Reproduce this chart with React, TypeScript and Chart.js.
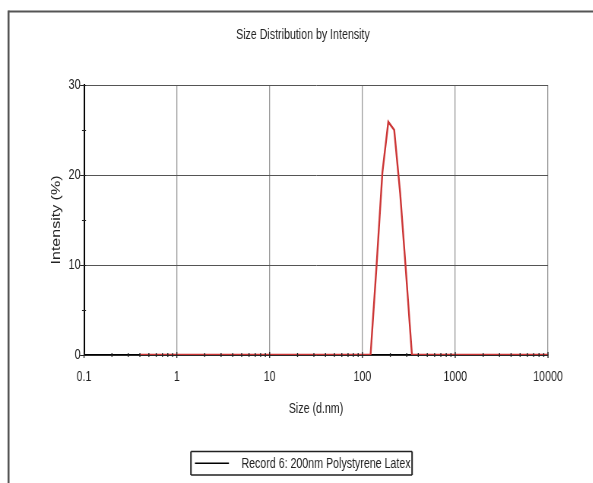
import { useEffect, useRef } from 'react';
import { Chart, registerables } from 'chart.js';

Chart.register(...registerables);

// ---- data ----
const sizes = [
  0.4, 0.4632, 0.5365, 0.6213, 0.7195, 0.8332, 0.9649, 1.117, 1.294, 1.499,
  1.736, 2.01, 2.328, 2.696, 3.122, 3.615, 4.187, 4.849, 5.615, 6.503,
  7.531, 8.721, 10.1, 11.7, 13.54, 15.69, 18.17, 21.04, 24.36, 28.21,
  32.67, 37.84, 43.82, 50.75, 58.77, 68.06, 78.82, 91.28, 105.7, 122.4,
  141.8, 164.2, 190.1, 220.2, 255.0, 295.3, 342.0, 396.1, 458.7, 531.2,
  615.1, 712.4, 825.0, 955.4, 1106, 1281, 1484, 1718, 1990, 2305,
  2669, 3091, 3580, 4145, 4801, 5560, 6439, 7456, 8635, 10000,
];
const intensity = [
  0, 0, 0, 0, 0, 0, 0, 0, 0, 0,
  0, 0, 0, 0, 0, 0, 0, 0, 0, 0,
  0, 0, 0, 0, 0, 0, 0, 0, 0, 0,
  0, 0, 0, 0, 0, 0, 0, 0, 0, 0,
  9.8, 20.3, 25.9, 25.0, 18.0, 9.1, 0, 0, 0, 0,
  0, 0, 0, 0, 0, 0, 0, 0, 0, 0,
  0, 0, 0, 0, 0, 0, 0, 0, 0, 0,
];
const xTickValues = [0.1, 1, 10, 100, 1000, 10000];
const xTickLabels = ['0.1', '1', '10', '100', '1000', '10000'];
const xMinorMultipliers = [2, 3, 4, 5, 6, 7, 8, 9];
const yTickValues = [0, 10, 20, 30];
const yMinorValues = [5, 15, 25];
const titleText = 'Size Distribution by Intensity';
const xTitleText = 'Size (d.nm)';
const yTitleText = 'Intensity (%)';
const legendText = 'Record 6: 200nm Polystyrene Latex';

// The reference is horizontally condensed; render wider and squeeze with CSS.
const SX = 0.76;
const VIEW_W = 593;
const VIEW_H = 483;
const CW = Math.round(VIEW_W / SX);
const u = (px: number) => px / SX; // horizontal view px -> canvas px

const FONT = "'Liberation Sans', Arial, Helvetica, sans-serif";
const FS = 14;
const TEXT_COLOR = '#222';
const RED = '#cc3636';

const decorPlugin = {
  id: 'decor',
  beforeDraw(chart: any) {
    const ctx = chart.ctx;
    ctx.save();
    ctx.strokeStyle = '#555';
    ctx.lineWidth = 2;
    ctx.beginPath();
    ctx.moveTo(u(8.5), 11.5);
    ctx.lineTo(chart.width, 11.5);
    ctx.stroke();
    ctx.lineWidth = u(2);
    ctx.beginPath();
    ctx.moveTo(u(8.5), chart.height);
    ctx.lineTo(u(8.5), 10.5);
    ctx.stroke();
    ctx.restore();
  },
  afterDatasetsDraw(chart: any) {
    const ctx = chart.ctx;
    const xs = chart.scales.x;
    const ys = chart.scales.y;
    const { left, bottom } = chart.chartArea;
    ctx.save();
    ctx.strokeStyle = '#222';
    ctx.lineWidth = u(1);
    ctx.beginPath();
    xTickValues.slice(0, -1).forEach((d) => {
      xMinorMultipliers.forEach((m) => {
        const px = xs.getPixelForValue(d * m);
        ctx.moveTo(px, bottom - 2);
        ctx.lineTo(px, bottom + 2);
      });
    });
    xTickValues.forEach((v) => {
      const px = xs.getPixelForValue(v);
      ctx.moveTo(px, bottom - 3);
      ctx.lineTo(px, bottom + 3);
    });
    ctx.stroke();
    ctx.lineWidth = 1;
    ctx.beginPath();
    yTickValues.forEach((v) => {
      const py = Math.round(ys.getPixelForValue(v)) + 0.5;
      ctx.moveTo(left - u(4), py);
      ctx.lineTo(left + u(2), py);
    });
    yMinorValues.forEach((v) => {
      const py = Math.round(ys.getPixelForValue(v)) + 0.5;
      ctx.moveTo(left - u(2), py);
      ctx.lineTo(left + u(2), py);
    });
    ctx.stroke();
    ctx.restore();
  },
  afterDraw(chart: any) {
    const ctx = chart.ctx;
    ctx.save();
    ctx.font = `${FS}px ${FONT}`;
    const tw = ctx.measureText(legendText).width;
    const padL = u(4);
    const lineLen = u(34);
    const gap = u(12.5);
    const padR = u(1.5);
    const boxW = padL + lineLen + gap + tw + padR;
    const boxH = 23.5;
    const cx = u(301.5);
    const bx = cx - boxW / 2;
    const by = chart.height - 31.5;
    ctx.strokeStyle = '#222';
    ctx.lineWidth = 1.5;
    ctx.beginPath();
    ctx.moveTo(bx, by);
    ctx.lineTo(bx + boxW, by);
    ctx.moveTo(bx, by + boxH);
    ctx.lineTo(bx + boxW, by + boxH);
    ctx.stroke();
    ctx.lineWidth = u(1.5);
    ctx.beginPath();
    ctx.moveTo(bx, by);
    ctx.lineTo(bx, by + boxH);
    ctx.moveTo(bx + boxW, by);
    ctx.lineTo(bx + boxW, by + boxH);
    ctx.stroke();
    const cy = by + boxH / 2;
    ctx.strokeStyle = '#000';
    ctx.lineWidth = 1.5;
    ctx.beginPath();
    ctx.moveTo(bx + padL, cy);
    ctx.lineTo(bx + padL + lineLen, cy);
    ctx.stroke();
    ctx.fillStyle = TEXT_COLOR;
    ctx.textBaseline = 'middle';
    ctx.textAlign = 'left';
    ctx.fillText(legendText, bx + padL + lineLen + gap, cy + 0.5);
    ctx.restore();
  },
};

export default function App() {
  const canvasRef = useRef<HTMLCanvasElement | null>(null);

  useEffect(() => {
    const canvas = canvasRef.current;
    if (!canvas) return;
    const font = { family: FONT, size: FS };
    const leftPad = u(13);
    const chartLeft = u(84);
    const chartRight = u(548);
    const chart = new Chart(canvas, {
      type: 'line',
      data: {
        datasets: [
          {
            label: legendText,
            data: sizes.map((s, i) => ({ x: s, y: intensity[i] })),
            borderColor: RED,
            borderWidth: 2.4,
            pointRadius: 0,
            tension: 0,
            fill: false,
          },
        ],
      },
      options: {
        responsive: false,
        animation: false,
        devicePixelRatio: 1,
        events: [],
        layout: { padding: { top: 0, left: leftPad, right: 0, bottom: 58 } },
        plugins: {
          legend: { display: false },
          tooltip: { enabled: false },
          title: {
            display: true,
            text: titleText,
            color: TEXT_COLOR,
            font: { family: FONT, size: FS, weight: 'normal' },
            padding: { top: 27.2, bottom: 41 },
          },
        },
        scales: {
          x: {
            type: 'logarithmic',
            min: 0.1,
            max: 10000,
            afterBuildTicks: (s: any) => {
              s.ticks = xTickValues.map((v) => ({ value: v }));
            },
            afterFit: (s: any) => {
              s.height = 70;
            },
            ticks: {
              callback: (_v: any, i: number) => xTickLabels[i],
              autoSkip: false,
              maxRotation: 0,
              padding: 13.6,
              color: TEXT_COLOR,
              font,
            },
            grid: { color: '#9a9a9a', lineWidth: u(1), drawTicks: false },
            border: { color: '#000', width: 1.5 },
            title: {
              display: true,
              text: xTitleText,
              color: TEXT_COLOR,
              font,
              padding: { top: 0, bottom: 7.1 },
            },
          },
          y: {
            type: 'linear',
            min: 0,
            max: 30,
            afterBuildTicks: (s: any) => {
              s.ticks = yTickValues.map((v) => ({ value: v }));
            },
            afterFit: (s: any) => {
              s.width = chartLeft - leftPad;
            },
            ticks: { padding: u(3.5), color: TEXT_COLOR, font },
            grid: { color: '#555', lineWidth: 1, drawTicks: false },
            border: { color: '#000', width: u(1.5) },
            title: {
              display: true,
              text: yTitleText,
              color: TEXT_COLOR,
              font: { family: FONT, size: 16 },
              padding: { top: u(57) - leftPad - 9.6, bottom: 0 },
            },
          },
          y2: {
            type: 'linear',
            position: 'right',
            display: true,
            afterFit: (s: any) => {
              s.width = CW - chartRight;
            },
            grid: { display: false, drawTicks: false },
            ticks: { display: false },
            border: { display: false },
          },
        },
      },
      plugins: [decorPlugin],
    } as any);
    return () => chart.destroy();
  }, []);

  return (
    <div
      style={{
        position: 'fixed',
        left: 0,
        top: 0,
        width: VIEW_W,
        height: VIEW_H,
        overflow: 'hidden',
        background: '#fff',
      }}
    >
      <div style={{ width: CW, height: VIEW_H, transform: `scaleX(${SX})`, transformOrigin: '0 0' }}>
        <canvas ref={canvasRef} width={CW} height={VIEW_H} style={{ display: 'block' }} />
      </div>
    </div>
  );
}
